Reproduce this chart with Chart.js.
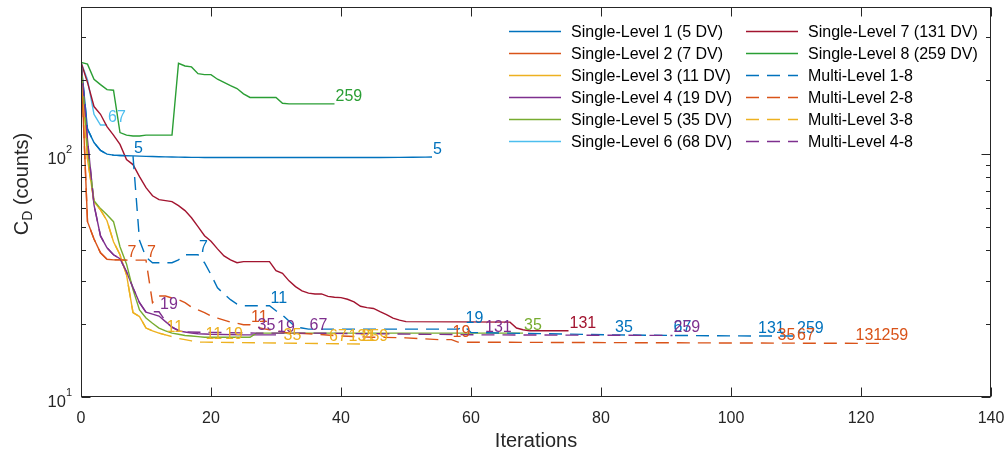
<!DOCTYPE html>
<html>
<head>
<meta charset="utf-8">
<script src="https://cdn.jsdelivr.net/npm/chart.js@4.4.1/dist/chart.umd.min.js"></script>
<style>
  html, body { margin: 0; padding: 0; background: #ffffff; }
  #wrap { width: 1008px; height: 456px; }
</style>
</head>
<body>
<div id="wrap"><canvas id="c" width="1008" height="456"></canvas></div>
<script>
// Convergence of C_D against optimizer iteration, single-level vs multi-level runs.
const FONT = '"Liberation Sans", Arial, Helvetica, sans-serif';
const AXIS_COLOR = '#262626';

const xTicks = [0, 20, 40, 60, 80, 100, 120, 140];
const yTicks = [10, 100];
const yTickExponents = ['1', '2'];
const yMinorTicks = [20, 30, 40, 50, 60, 70, 80, 90, 200, 300];

// [iteration, C_D counts]
const sl1 = [[0,237],[1,126],[2,111],[3,103],[4,99.5],[5,98.5],[6,98.2],[7,98],[8,97.8],[9,97.6],[10,97.4],[11,97.2],[12,97],[13,96.9],[14,96.8],[15,96.7],[16,96.6],[17,96.5],[18,96.5],[19,96.4],[20,96.4],[25,96.3],[30,96.3],[35,96.3],[40,96.3],[45,96.3],[46,96.4],[49,96.5],[51,96.6],[53,96.7],[54,96.8]];
const sl2 = [[0,237],[1,52.5],[2,44.6],[3,39.1],[4,36.8],[5,36.6],[6,36.6],[7,36.5]];
const sl3 = [[0,237],[1,94.5],[2,63.4],[3,58.7],[4,53],[5,43.4],[6,38.4],[7,31.8],[8,22.2],[9,21.4],[10,19.2],[11,18.7],[12,18.3],[13,18.0]];
const sl4 = [[0,237],[1,114],[2,61.6],[3,45.9],[4,41.0],[5,38.4],[6,37.0],[7,32.7],[8,28.1],[9,24.4],[10,22.3],[11,21.9],[12,21.5],[13,20.4],[14,19.4],[15,18.7],[16,18.5],[17,18.3],[18,18.2],[20,18.1],[25,18.0],[30,18.0]];
const sl5 = [[0,237],[1,104],[2,64.1],[3,59.4],[4,56.1],[5,52.5],[6,41.4],[7,35.2],[8,27.6],[9,22.8],[10,21.1],[11,20.1],[12,19.2],[13,18.7],[14,18.3],[15,18.1],[16,17.9],[17,17.8],[18,17.7],[19,17.6],[26,17.6],[27,18.3],[68,18.3]];
const sl6 = [[0,237],[1,201],[2,145],[3,131],[4,131]];
const sl7 = [[0,237],[1,196],[2,156],[3,145],[4,129],[5,119],[6,109],[7,94.5],[8,90.1],[9,80.4],[10,72.4],[11,67.1],[12,64.7],[13,64.1],[14,63.5],[15,61.1],[16,58.3],[17,54.5],[18,50.1],[19,46.0],[20,43.6],[21,40.6],[22,38.0],[23,36.6],[24,35.6],[25,36.0],[29,36.0],[30,33.0],[31,32.2],[32,30.0],[33,28.4],[34,27.3],[35,26.7],[36,26.5],[37,26.5],[38,25.9],[39,25.7],[40,25.6],[41,25.2],[42,24.6],[43,23.6],[44,23.3],[45,23.1],[46,22.4],[47,21.8],[48,21.1],[49,20.7],[50,20.4],[66,20.3],[67,19.2],[68,18.9],[69,18.7],[75,18.7]];
const sl8 = [[0,237],[1,233],[2,202],[3,192],[4,183],[5,182],[6,122],[7,119],[8,118],[9,118],[10,119],[14,119],[15,235],[16,229],[17,227],[18,213],[19,211],[20,211],[21,202],[22,196],[23,190],[24,185],[25,176],[26,170],[30,170],[31,161],[32,160],[39,160]];
const ml18 = [[0,237],[1,126],[2,111],[3,103],[4,99.5],[5,98.5],[6,98.2],[7,98],[8,97.8],[9,44],[10,37.5],[11,35.6],[14,35.6],[15,36.6],[16,38.4],[18,38.4],[19,35.6],[20,31.8],[21,28.1],[22,26.5],[23,25.1],[24,24.1],[25,23.7],[29,23.7],[30,22.6],[31,21.7],[32,20.5],[33,19.4],[34,19.2],[35,19.0],[58,19.0],[59,19.5],[60,18.4],[82,18.0],[91,17.9],[104,17.8],[110,17.8]];
const ml28 = [[0,237],[1,52.5],[2,44.6],[3,39.1],[4,36.8],[5,36.6],[6,36.6],[7,36.5],[10,36.5],[11,24.4],[12,26.0],[13,26.0],[14,25.5],[15,25.1],[16,24.4],[17,23.4],[18,22.8],[19,22.2],[20,21.5],[21,21.1],[22,20.7],[23,20.3],[24,20.1],[25,19.8],[26,19.8],[27,19.4],[28,19.1],[29,18.9],[30,18.7],[32,18.3],[35,18.2],[40,17.8],[45,17.6],[50,17.5],[55,17.2],[57,17.2],[58,16.8],[123,16.6]];
const ml38 = [[0,237],[1,94.5],[2,63.4],[3,58.7],[4,53],[5,43.4],[6,38.4],[7,31.8],[8,22.2],[9,21.4],[10,19.2],[11,18.7],[12,18.3],[13,18.0],[14,17.7],[15,17.4],[16,17.2],[17,17.0],[18,16.8],[19,16.8],[43,16.5]];
const ml48 = [[0,237],[1,114],[2,61.6],[3,45.9],[4,41.0],[5,38.4],[6,37.0],[7,32.7],[8,28.1],[9,24.4],[10,22.3],[11,22.4],[12,22.4],[13,20.5],[14,19.3],[15,18.8],[16,18.5],[27,18.3],[35,18.3],[62,18.0],[91,17.9]];

// Design-variable count written at the end of each run / refinement stage: [iteration, text]
const sl1Tags = [[54,'5']];
const sl2Tags = [[7,'7']];
const sl3Tags = [[13,'11']];
const sl4Tags = [[30,'19']];
const sl5Tags = [[68,'35']];
const sl6Tags = [[4,'67']];
const sl7Tags = [[75,'131']];
const sl8Tags = [[39,'259']];
const ml18Tags = [[8,'5'],[18,'7'],[29,'11'],[59,'19'],[82,'35'],[91,'67'],[104,'131'],[110,'259']];
const ml28Tags = [[10,'7'],[26,'11'],[57,'19'],[107,'35'],[110,'67'],[119,'131'],[123,'259']];
const ml38Tags = [[19,'11'],[22,'19'],[31,'35'],[38,'67'],[41,'131'],[43,'259']];
const ml48Tags = [[12,'19'],[27,'35'],[35,'67'],[62,'131'],[91,'259']];

const seriesNames = [
  'Single-Level 1 (5 DV)', 'Single-Level 2 (7 DV)', 'Single-Level 3 (11 DV)',
  'Single-Level 4 (19 DV)', 'Single-Level 5 (35 DV)', 'Single-Level 6 (68 DV)',
  'Single-Level 7 (131 DV)', 'Single-Level 8 (259 DV)',
  'Multi-Level 1-8', 'Multi-Level 2-8', 'Multi-Level 3-8', 'Multi-Level 4-8'
];
const seriesData = [sl1, sl2, sl3, sl4, sl5, sl6, sl7, sl8, ml18, ml28, ml38, ml48];
const seriesTags = [sl1Tags, sl2Tags, sl3Tags, sl4Tags, sl5Tags, sl6Tags, sl7Tags, sl8Tags, ml18Tags, ml28Tags, ml38Tags, ml48Tags];
const seriesColors = ['#0072BD', '#D95319', '#EDB120', '#7E2F8E', '#77AC30', '#4DBEEE', '#A2142F', '#2A9E34',
                      '#0072BD', '#D95319', '#EDB120', '#7E2F8E'];
const DASH = [13, 8];

const datasets = seriesData.map((pts, i) => ({
  label: seriesNames[i],
  data: pts.map(([x, y]) => ({ x, y })),
  borderColor: seriesColors[i],
  backgroundColor: seriesColors[i],
  borderWidth: 1.4,
  borderDash: i >= 8 ? DASH : [],
  pointRadius: 0,
  tension: 0,
  fill: false,
  order: seriesData.length - i,
  tags: seriesTags[i]
}));

function valueAt(pts, it) {
  for (const [x, y] of pts) if (x === it) return y;
  for (let k = 1; k < pts.length; k++) {
    const [x0, y0] = pts[k - 1], [x1, y1] = pts[k];
    if (it > x0 && it < x1) return y0 * Math.pow(y1 / y0, (it - x0) / (x1 - x0));
  }
  return pts[pts.length - 1][1];
}

function noScalePadding(s) {
  s.paddingLeft = 0; s.paddingRight = 0; s.paddingTop = 0; s.paddingBottom = 0;
}

const matlabAxes = {
  id: 'matlabAxes',
  afterDatasetsDraw(chart) {
    const { ctx, scales: { x, y } } = chart;
    ctx.save();
    ctx.font = '16px ' + FONT;
    ctx.textAlign = 'left';
    ctx.textBaseline = 'alphabetic';
    chart.data.datasets.forEach((ds, i) => {
      ctx.fillStyle = ds.borderColor;
      ds.tags.forEach(([it, txt]) => {
        const px = x.getPixelForValue(it);
        const py = y.getPixelForValue(valueAt(seriesData[i], it));
        ctx.fillText(txt, px + 1, py - 3);
      });
    });
    ctx.restore();
  },
  afterDraw(chart) {
    const { ctx, chartArea: a, scales: { x, y } } = chart;
    const L = Math.round(a.left) + 0.5, R = Math.round(a.right) - 0.5;
    const T = Math.round(a.top) + 0.5, B = Math.round(a.bottom) - 0.5;
    ctx.save();
    ctx.strokeStyle = AXIS_COLOR;
    ctx.lineWidth = 1;
    ctx.strokeRect(L, T, R - L, B - T);
    ctx.beginPath();
    const major = 9, minor = 4.5;
    xTicks.forEach(v => {
      const px = Math.round(x.getPixelForValue(v)) + 0.5;
      ctx.moveTo(px, B); ctx.lineTo(px, B - major);
      ctx.moveTo(px, T); ctx.lineTo(px, T + major);
    });
    yTicks.forEach(v => {
      const py = Math.round(y.getPixelForValue(v)) + 0.5;
      ctx.moveTo(L, py); ctx.lineTo(L + major, py);
      ctx.moveTo(R, py); ctx.lineTo(R - major, py);
    });
    yMinorTicks.forEach(v => {
      const py = Math.round(y.getPixelForValue(v)) + 0.5;
      ctx.moveTo(L, py); ctx.lineTo(L + minor, py);
      ctx.moveTo(R, py); ctx.lineTo(R - minor, py);
    });
    ctx.stroke();

    // y tick labels as base 10 with raised exponent
    ctx.fillStyle = AXIS_COLOR;
    ctx.textBaseline = 'alphabetic';
    yTicks.forEach((v, k) => {
      const py = y.getPixelForValue(v);
      ctx.font = '11px ' + FONT;
      const we = ctx.measureText(yTickExponents[k]).width;
      ctx.textAlign = 'right';
      ctx.fillText(yTickExponents[k], 72, py - 1);
      ctx.font = '16.5px ' + FONT;
      ctx.fillText('10', 72 - we, py + 10);
    });

    // y-axis title with subscript
    ctx.save();
    ctx.translate(22, 184);
    ctx.rotate(-Math.PI / 2);
    ctx.fillStyle = AXIS_COLOR;
    ctx.textBaseline = 'middle';
    const big = '20px ' + FONT, small = '14px ' + FONT;
    ctx.font = big; const wC = ctx.measureText('C').width; const wRest = ctx.measureText(' (counts)').width;
    ctx.font = small; const wD = ctx.measureText('D').width;
    let sx = -(wC + wD + wRest) / 2;
    ctx.font = big; ctx.textAlign = 'left';
    ctx.fillText('C', sx, 0); sx += wC;
    ctx.font = small; ctx.fillText('D', sx, 6); sx += wD;
    ctx.font = big; ctx.fillText(' (counts)', sx, 0);
    ctx.restore();

    // legend, two columns
    ctx.font = '16px ' + FONT;
    ctx.textAlign = 'left';
    ctx.textBaseline = 'middle';
    chart.data.datasets.forEach((ds, i) => {
      const col = i < 6 ? 0 : 1, row = i % 6;
      const lx = col === 0 ? 509 : 746;
      const ly = 31.5 + 22 * row;
      ctx.strokeStyle = ds.borderColor;
      ctx.lineWidth = 1.4;
      ctx.setLineDash(ds.borderDash);
      ctx.beginPath(); ctx.moveTo(lx, ly); ctx.lineTo(lx + 52, ly); ctx.stroke();
      ctx.setLineDash([]);
      ctx.fillStyle = '#000000';
      ctx.fillText(ds.label, lx + 62, ly + 1);
    });
    ctx.restore();
  }
};

new Chart(document.getElementById('c'), {
  type: 'line',
  data: { datasets },
  plugins: [matlabAxes],
  options: {
    responsive: false,
    animation: false,
    devicePixelRatio: 1,
    layout: { padding: { top: 7, right: 17, left: 0, bottom: 0 } },
    plugins: { legend: { display: false }, tooltip: { enabled: false } },
    scales: {
      x: {
        type: 'linear', min: 0, max: 140,
        afterBuildTicks: s => { s.ticks = xTicks.map(v => ({ value: v })); },
        afterFit: s => { s.height = 59; noScalePadding(s); },
        grid: { display: false, drawTicks: false },
        border: { display: false },
        ticks: { color: AXIS_COLOR, font: { family: FONT, size: 16 }, padding: 12, maxRotation: 0, autoSkip: false },
        title: { display: true, text: 'Iterations', color: AXIS_COLOR, font: { family: FONT, size: 20 }, padding: { top: 2, bottom: 3 } }
      },
      y: {
        type: 'logarithmic', min: 10, max: 400,
        afterBuildTicks: s => { s.ticks = yTicks.map(v => ({ value: v })); },
        afterFit: s => { s.width = 81; noScalePadding(s); },
        grid: { display: false, drawTicks: false },
        border: { display: false },
        ticks: { display: false }
      }
    }
  }
});
</script>
</body>
</html>
